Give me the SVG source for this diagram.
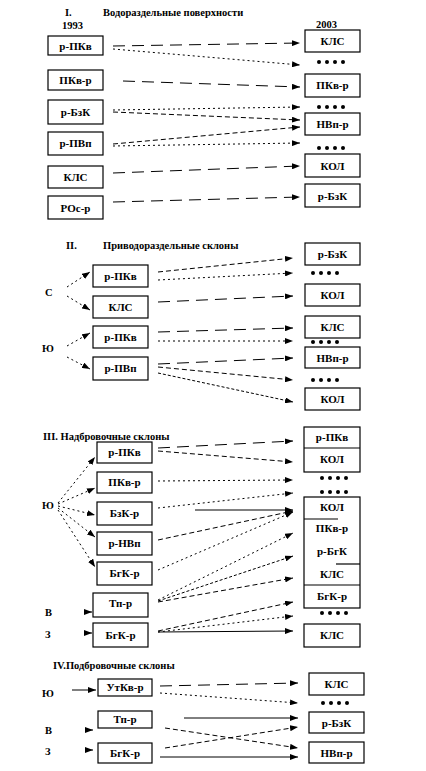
<svg xmlns="http://www.w3.org/2000/svg" width="426" height="771" viewBox="0 0 426 771">
<defs>
<marker id="ah" markerWidth="8" markerHeight="6" refX="8" refY="3" orient="auto" markerUnits="userSpaceOnUse">
<path d="M0,0 L8,3 L0,6 z" fill="#000"/>
</marker>
<style>
.box{fill:#fff;stroke:#000;stroke-width:1.2}
.dv{stroke:#000;stroke-width:1.2;fill:none}
.t{font-family:"Liberation Serif",serif;font-weight:bold;font-size:11px;text-anchor:middle;fill:#000}
.h{font-family:"Liberation Serif",serif;font-weight:bold;font-size:10.5px;fill:#000}
.c path{fill:none;stroke:#000;stroke-width:1;marker-end:url(#ah)}
.ld{stroke-dasharray:12 7}
.d{stroke-dasharray:5 3}
.dt{stroke-dasharray:2 3}
.fd{stroke-dasharray:3 2}
.dots circle{fill:#000}
</style>
</defs>
<rect width="426" height="771" fill="#fff"/>

<!-- Titles -->
<g id="titles">
<text class="h" x="65" y="16">I.</text>
<text class="h" x="103" y="16">Водораздельные поверхности</text>
<text class="h" x="62" y="29">1993</text>
<text class="h" x="316" y="28">2003</text>
<text class="h" x="66" y="249">II.</text>
<text class="h" x="103" y="249">Приводораздельные склоны</text>
<text class="h" x="43" y="440">III. Надбровочные склоны</text>
<text class="h" x="53" y="669">IV.Подбровочные склоны</text>
</g>

<!-- Side labels -->
<g id="labels">
<text class="h" x="45" y="296">С</text>
<text class="h" x="42" y="352">Ю</text>
<text class="h" x="42" y="509">Ю</text>
<text class="h" x="45" y="616">В</text>
<text class="h" x="45" y="638">З</text>
<text class="h" x="42" y="697">Ю</text>
<text class="h" x="45" y="734">В</text>
<text class="h" x="45" y="755">З</text>
</g>

<!-- Section I left -->
<g id="s1-l1"><rect class="box" x="48" y="36" width="55" height="19"/><text class="t" x="75.5" y="50">р-ПКв</text></g>
<g id="s1-l2"><rect class="box" x="48" y="70" width="55" height="20"/><text class="t" x="75.5" y="84">ПКв-р</text></g>
<g id="s1-l3"><rect class="box" x="48" y="100" width="55" height="24"/><text class="t" x="75.5" y="116">р-БзК</text></g>
<g id="s1-l4"><rect class="box" x="48" y="132" width="55" height="23"/><text class="t" x="75.5" y="147">р-ПВп</text></g>
<g id="s1-l5"><rect class="box" x="48" y="166" width="55" height="22"/><text class="t" x="75.5" y="181">КЛС</text></g>
<g id="s1-l6"><rect class="box" x="48" y="196" width="55" height="23"/><text class="t" x="75.5" y="212">РОс-р</text></g>
<!-- Section I right -->
<g id="s1-r1"><rect class="box" x="305" y="30" width="55" height="22"/><text class="t" x="332.5" y="45">КЛС</text></g>
<g id="s1-r2"><rect class="box" x="305" y="74" width="55" height="23"/><text class="t" x="332.5" y="89">ПКв-р</text></g>
<g id="s1-r3"><rect class="box" x="305" y="113" width="55" height="22"/><text class="t" x="332.5" y="128">НВп-р</text></g>
<g id="s1-r4"><rect class="box" x="305" y="154" width="55" height="23"/><text class="t" x="332.5" y="170">КОЛ</text></g>
<g id="s1-r5"><rect class="box" x="305" y="184" width="55" height="23"/><text class="t" x="332.5" y="200">р-БзК</text></g>

<!-- Section II left -->
<g id="s2-l1"><rect class="box" x="93" y="265" width="55" height="22"/><text class="t" x="120.5" y="280">р-ПКв</text></g>
<g id="s2-l2"><rect class="box" x="93" y="296" width="55" height="22"/><text class="t" x="120.5" y="311">КЛС</text></g>
<g id="s2-l3"><rect class="box" x="93" y="326" width="55" height="22"/><text class="t" x="120.5" y="341">р-ПКв</text></g>
<g id="s2-l4"><rect class="box" x="93" y="357" width="55" height="23"/><text class="t" x="120.5" y="372">р-ПВп</text></g>
<!-- Section II right -->
<g id="s2-r1"><rect class="box" x="305" y="243" width="55" height="22"/><text class="t" x="332.5" y="258">р-БзК</text></g>
<g id="s2-r2"><rect class="box" x="305" y="284" width="55" height="22"/><text class="t" x="332.5" y="299">КОЛ</text></g>
<g id="s2-r3"><rect class="box" x="305" y="316" width="55" height="22"/><text class="t" x="332.5" y="331">КЛС</text></g>
<g id="s2-r4"><rect class="box" x="305" y="347" width="55" height="21"/><text class="t" x="332.5" y="362">НВп-р</text></g>
<g id="s2-r5"><rect class="box" x="305" y="388" width="55" height="22"/><text class="t" x="332.5" y="403">КОЛ</text></g>

<!-- Section III left -->
<g id="s3-l1"><rect class="box" x="97" y="442" width="55" height="21"/><text class="t" x="124.5" y="456">р-ПКв</text></g>
<g id="s3-l2"><rect class="box" x="97" y="472" width="55" height="21"/><text class="t" x="124.5" y="486">ПКв-р</text></g>
<g id="s3-l3"><rect class="box" x="97" y="502" width="55" height="23"/><text class="t" x="124.5" y="517">БзК-р</text></g>
<g id="s3-l4"><rect class="box" x="97" y="532" width="55" height="23"/><text class="t" x="124.5" y="547">р-НВп</text></g>
<g id="s3-l5"><rect class="box" x="97" y="562" width="55" height="23"/><text class="t" x="124.5" y="577">БгК-р</text></g>
<g id="s3-l6"><rect class="box" x="93" y="593" width="55" height="24"/><text class="t" x="120.5" y="607">Тп-р</text></g>
<g id="s3-l7"><rect class="box" x="93" y="623" width="55" height="24"/><text class="t" x="120.5" y="639">БгК-р</text></g>
<!-- Section III right -->
<g id="s3-r1"><rect class="box" x="304" y="427" width="56" height="45"/><line class="dv" x1="304" y1="448" x2="360" y2="448"/><text class="t" x="332" y="441">р-ПКв</text><text class="t" x="332" y="463">КОЛ</text></g>
<g id="s3-r2"><rect class="box" x="304" y="497" width="56" height="111"/>
<line class="dv" x1="304" y1="519" x2="338" y2="519"/>
<line class="dv" x1="336" y1="564" x2="360" y2="564"/>
<line class="dv" x1="304" y1="585" x2="360" y2="585"/>
<text class="t" x="332" y="511">КОЛ</text>
<text class="t" x="332" y="532">ПКв-р</text>
<text class="t" x="332" y="555">р-БгК</text>
<text class="t" x="332" y="578">КЛС</text>
<text class="t" x="332" y="600">БгК-р</text></g>
<g id="s3-r3"><rect class="box" x="304" y="624" width="56" height="23"/><text class="t" x="332" y="639">КЛС</text></g>

<!-- Section IV left -->
<g id="s4-l1"><rect class="box" x="98" y="679" width="54" height="17"/><text class="t" x="125" y="691">УтКв-р</text></g>
<g id="s4-l2"><rect class="box" x="98" y="711" width="54" height="17"/><text class="t" x="125" y="723">Тп-р</text></g>
<g id="s4-l3"><rect class="box" x="98" y="743" width="54" height="20"/><text class="t" x="125" y="757">БгК-р</text></g>
<!-- Section IV right -->
<g id="s4-r1"><rect class="box" x="309" y="673" width="55" height="22"/><text class="t" x="336.5" y="688">КЛС</text></g>
<g id="s4-r2"><rect class="box" x="309" y="712" width="55" height="21"/><text class="t" x="336.5" y="727">р-БзК</text></g>
<g id="s4-r3"><rect class="box" x="309" y="742" width="55" height="21"/><text class="t" x="336.5" y="757">НВп-р</text></g>

<!-- Dots -->
<g id="dots" class="dots">
<g transform="translate(0,62)"><circle cx="319" r="2"/><circle cx="327" r="2"/><circle cx="335" r="2"/><circle cx="343" r="2"/></g>
<g transform="translate(0,107)"><circle cx="319" r="2"/><circle cx="327" r="2"/><circle cx="335" r="2"/><circle cx="343" r="2"/></g>
<g transform="translate(0,148)"><circle cx="319" r="2"/><circle cx="327" r="2"/><circle cx="335" r="2"/><circle cx="343" r="2"/></g>
<g transform="translate(0,273)"><circle cx="313" r="2"/><circle cx="321" r="2"/><circle cx="329" r="2"/><circle cx="337" r="2"/></g>
<g transform="translate(0,342)"><circle cx="313" r="2"/><circle cx="321" r="2"/><circle cx="329" r="2"/><circle cx="337" r="2"/></g>
<g transform="translate(0,380)"><circle cx="313" r="2"/><circle cx="321" r="2"/><circle cx="329" r="2"/><circle cx="337" r="2"/></g>
<g transform="translate(0,478)"><circle cx="322" r="2"/><circle cx="330" r="2"/><circle cx="338" r="2"/><circle cx="346" r="2"/></g>
<g transform="translate(0,492)"><circle cx="322" r="2"/><circle cx="330" r="2"/><circle cx="338" r="2"/><circle cx="346" r="2"/></g>
<g transform="translate(0,613)"><circle cx="322" r="2"/><circle cx="330" r="2"/><circle cx="338" r="2"/><circle cx="346" r="2"/></g>
<g transform="translate(0,703)"><circle cx="323" r="2"/><circle cx="331" r="2"/><circle cx="339" r="2"/><circle cx="347" r="2"/></g>
</g>

<!-- Connectors -->
<g id="connectors" class="c">
<!-- I -->
<path class="ld" d="M113,46 L300,43"/>
<path class="dt" d="M113,49 L300,65"/>
<path class="ld" d="M123,81 L300,87"/>
<path class="dt" d="M113,110 L300,107"/>
<path class="d" d="M113,112 L300,120"/>
<path class="d" d="M113,144 L300,127"/>
<path class="dt" d="M113,146 L300,143"/>
<path class="ld" d="M113,173 L300,166"/>
<path class="ld" d="M113,202 L300,197"/>
<!-- II -->
<path class="dt" d="M67,287 L90,272"/>
<path class="dt" d="M67,296 L90,310"/>
<path class="dt" d="M67,346 L90,333"/>
<path class="dt" d="M67,357 L90,369"/>
<path class="d" d="M158,272 L293,258"/>
<path class="dt" d="M158,280 L293,273"/>
<path class="ld" d="M158,302 L293,296"/>
<path class="ld" d="M158,332 L293,328"/>
<path class="dt" d="M158,341 L293,341"/>
<path class="ld" d="M158,364 L293,358"/>
<path class="d" d="M158,367 L293,380"/>
<path class="fd" d="M158,373 L293,402"/>
<!-- III fan -->
<path class="dt" d="M58,503 L95,457"/>
<path class="dt" d="M58,504 L95,488"/>
<path class="dt" d="M58,506 L95,515"/>
<path class="dt" d="M58,508 L95,537"/>
<path class="dt" d="M58,510 L95,567"/>
<path d="M84,612 L92,612"/>
<path d="M84,633 L92,633"/>
<!-- III -->
<path class="ld" d="M158,448 L293,441"/>
<path class="d" d="M158,451 L293,462"/>
<path class="dt" d="M158,481 L293,480"/>
<path class="dt" d="M158,508 L293,493"/>
<path d="M195,510 L293,510"/>
<path class="d" d="M158,540 L293,511"/>
<path class="dt" d="M158,570 L293,512"/>
<path class="dt" d="M158,600 L293,533"/>
<path class="fd" d="M158,601 L293,556"/>
<path class="d" d="M158,602 L293,578"/>
<path class="d" d="M158,631 L293,602"/>
<path class="dt" d="M158,632 L293,616"/>
<path d="M158,632 L293,631"/>
<!-- IV -->
<path d="M72,690 L96,690"/>
<path d="M85,730 L93,730"/>
<path d="M85,750 L93,750"/>
<path class="ld" d="M160,686 L298,683"/>
<path class="dt" d="M160,693 L298,703"/>
<path d="M184,718 L298,718"/>
<path class="d" d="M165,728 L298,748"/>
<path class="d" d="M165,748 L298,727"/>
<path d="M160,757 L298,757"/>
</g>
</svg>
